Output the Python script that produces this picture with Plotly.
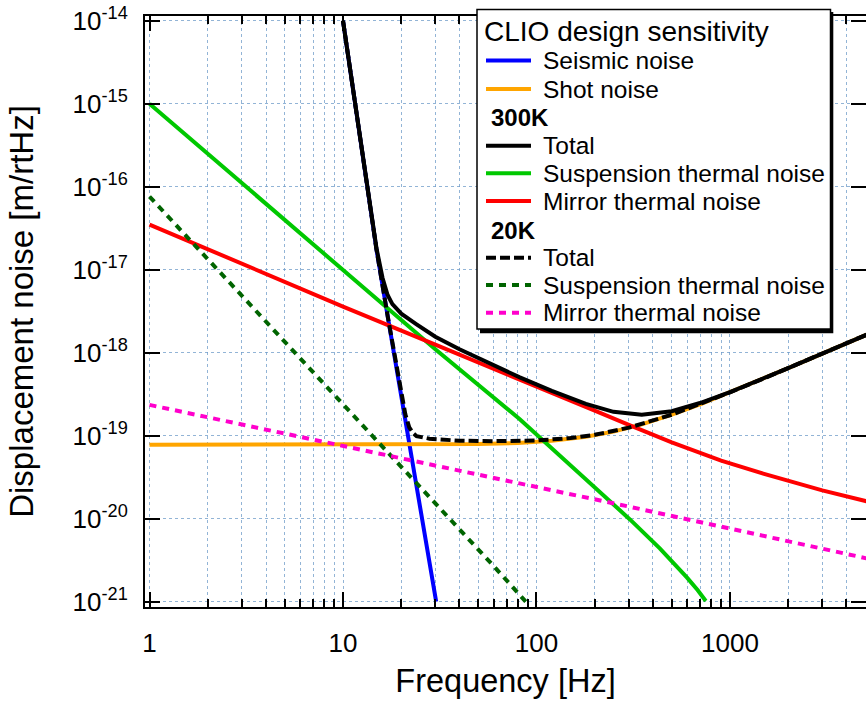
import plotly.graph_objects as go

# ---------------- data ----------------
seis_f = [10, 12, 14.9, 17, 20, 24.5, 27, 30.3]
seis_v = [1.0e-14, 5.5e-16, 1.74e-17, 2.8e-18, 2.95e-19, 1.78e-20, 4.7e-21, 1.0e-21]

shot_f = [1, 10, 30, 50, 80, 120, 180, 250, 350, 500, 700, 1000, 1500, 2000, 3000, 5000, 5500]
shot_v = [7.76e-20, 7.76e-20, 7.82e-20, 7.93e-20, 8.18e-20, 8.68e-20, 9.7e-20, 1.12e-19,
          1.37e-19, 1.79e-19, 2.39e-19, 3.33e-19, 4.91e-19, 6.51e-19, 9.73e-19, 1.62e-18, 1.78e-18]

tot300_f = [10, 12, 14.9, 16, 17, 18, 20, 24, 30, 40, 60, 82, 120, 180, 250, 350, 500, 700,
            1000, 1500, 2000, 3000, 5000, 5500]
tot300_v = [1.0e-14, 5.5e-16, 1.81e-17, 8.0e-18, 4.95e-18, 3.85e-18, 2.95e-18, 2.2e-18, 1.56e-18,
            1.1e-18, 7.0e-19, 5.05e-19, 3.47e-19, 2.42e-19, 1.94e-19, 1.79e-19, 1.97e-19, 2.475e-19,
            3.36e-19, 4.92e-19, 6.52e-19, 9.74e-19, 1.62e-18, 1.78e-18]

susp300_f = [1, 3, 10, 30, 82, 117, 200, 304, 435, 520, 600, 680, 750]
susp300_v = [1.0e-15, 1.11e-16, 1.0e-17, 1.1e-18, 1.58e-19, 7.4e-20, 2.4e-20, 9.8e-21,
             4.37e-21, 2.82e-21, 1.95e-21, 1.38e-21, 1.02e-21]

mirr300_f = [1, 3, 10, 30, 82, 200, 300, 500, 900, 1500, 3000, 5500]
mirr300_v = [3.5e-17, 1.17e-17, 3.6e-18, 1.25e-18, 4.8e-19, 2.0e-19, 1.35e-19, 8.3e-20,
             5.0e-20, 3.47e-20, 2.19e-20, 1.55e-20]

tot20_f = [10, 12, 14.9, 17, 20, 21, 22, 23, 24, 26, 28, 40, 60, 100, 150, 200, 300, 500, 700,
           1000, 1500, 2000, 3000, 5000, 5500]
tot20_v = [1.0e-14, 5.5e-16, 1.74e-17, 2.8e-18, 3.1e-19, 1.81e-19, 1.26e-19, 1.08e-19, 9.87e-20,
           9.42e-20, 9.2e-20, 8.7e-20, 8.6e-20, 8.75e-20, 9.37e-20, 1.025e-19, 1.25e-19, 1.79e-19,
           2.4e-19, 3.33e-19, 4.91e-19, 6.51e-19, 9.73e-19, 1.62e-18, 1.78e-18]

susp20_f = [1, 3, 10, 30, 60, 88]
susp20_v = [7.6e-17, 4.9e-18, 2.4e-19, 1.55e-20, 2.7e-21, 1.0e-21]

mirr20_f = [1, 3, 10, 30, 100, 300, 1000, 3000, 5500]
mirr20_v = [2.35e-19, 1.37e-19, 7.5e-20, 4.4e-20, 2.4e-20, 1.4e-20, 7.6e-21, 4.4e-21, 3.2e-21]

x_tickvals = [1, 10, 100, 1000]
x_ticktext = ["1", "10", "100", "1000"]
y_exponents = [-14, -15, -16, -17, -18, -19, -20, -21]
y_tickvals = [10.0 ** e for e in y_exponents]
y_ticktext = ["10<sup>%d</sup>" % e for e in y_exponents]
x_minor = [m * 10 ** e for e in range(0, 4) for m in range(2, 10)]

legend_title = "CLIO design sensitivity"
# ------------------------------------------------------------------------

BLUE, ORANGE, BLACK = "#0000ff", "#ffa500", "#000000"
GREEN, RED = "#00c800", "#ff0000"
DKGREEN, PINK = "#006400", "#ff00cc"
LW = 4
DASH_BLACK = "10px,4px"
DASH_COL = "7px,6px"

series = [
    ("Seismic noise", seis_f, seis_v, BLUE, "solid"),
    ("Shot noise", shot_f, shot_v, ORANGE, "solid"),
    ("Suspension thermal noise (300K)", susp300_f, susp300_v, GREEN, "solid"),
    ("Mirror thermal noise (300K)", mirr300_f, mirr300_v, RED, "solid"),
    ("Suspension thermal noise (20K)", susp20_f, susp20_v, DKGREEN, DASH_COL),
    ("Mirror thermal noise (20K)", mirr20_f, mirr20_v, PINK, DASH_COL),
    ("Total (20K)", tot20_f, tot20_v, BLACK, DASH_BLACK),
    ("Total (300K)", tot300_f, tot300_v, BLACK, "solid"),
]

fig = go.Figure()
for name, f, v, col, dash in series:
    fig.add_trace(go.Scatter(x=f, y=v, mode="lines", name=name,
                             line=dict(color=col, width=LW, dash=dash)))

FONT = "Liberation Sans, Arial, sans-serif"
GRID = "rgba(110,155,200,0.75)"

ML, MR, MT, MB = 145, 0, 16, 97
W, H = 866, 704
PW, PH = W - ML - MR, H - MT - MB


def px(x):
    return (x - ML) / PW


def py(y):
    return (H - MB - y) / PH


fig.update_layout(
    template="none",
    width=W, height=H,
    margin=dict(l=ML, r=MR, t=MT, b=MB, pad=0),
    paper_bgcolor="white", plot_bgcolor="white",
    showlegend=False,
    font=dict(family=FONT, color="black", size=26),
)

fig.update_xaxes(
    type="log", range=[-0.0233, 3.703],
    tickvals=x_tickvals, ticktext=x_ticktext,
    ticks="inside", ticklen=15, tickwidth=2, tickcolor="black",
    showline=True, linewidth=2, linecolor="black", mirror="ticks",
    showgrid=True, gridcolor=GRID, griddash="dot", gridwidth=1,
    zeroline=False,
    minor=dict(tickvals=x_minor, ticks="inside", ticklen=8, tickwidth=2, tickcolor="black",
               showgrid=True, gridcolor=GRID, griddash="dot", gridwidth=1),
    tickfont=dict(size=26, family=FONT, color="black"),
    ticklabelstandoff=12,
    title=dict(text="Frequency [Hz]", font=dict(size=32.5, family=FONT, color="black"), standoff=12),
)

fig.update_yaxes(
    type="log", range=[-21.064, -13.943],
    tickvals=y_tickvals, ticktext=y_ticktext,
    ticks="inside", ticklen=15, tickwidth=2, tickcolor="black",
    showline=True, linewidth=2, linecolor="black", mirror="ticks",
    showgrid=True, gridcolor=GRID, griddash="dot", gridwidth=1,
    zeroline=False,
    tickfont=dict(size=26, family=FONT, color="black"),
    ticklabelstandoff=10,
    title=dict(text="Displacement noise [m/rtHz]", font=dict(size=33, family=FONT, color="black"),
               standoff=29),
)

# ---------------- legend box (drawn by hand to match the original frame) ----------------
shapes = []
shapes.append(dict(type="rect", xref="paper", yref="paper", layer="above",
                   x0=px(480), x1=px(833.3), y0=py(333.3), y1=py(12),
                   fillcolor="black", line=dict(width=0)))
shapes.append(dict(type="rect", xref="paper", yref="paper", layer="above",
                   x0=px(477), x1=px(830.5), y0=py(329), y1=py(9.5),
                   fillcolor="white", line=dict(color="black", width=1.5)))

annotations = [dict(text=legend_title, xref="paper", yref="paper", x=px(482), y=py(31.5),
                    xanchor="left", yanchor="middle", showarrow=False,
                    font=dict(size=28, family=FONT, color="black"))]

legend_rows = [
    ("Seismic noise", BLUE, "solid", 60.5),
    ("Shot noise", ORANGE, "solid", 89),
    ("<b>300K</b>", None, None, 117.3),
    ("Total", BLACK, "solid", 145.7),
    ("Suspension thermal noise", GREEN, "solid", 173.3),
    ("Mirror thermal noise", RED, "solid", 201),
    ("<b>20K</b>", None, None, 230),
    ("Total", BLACK, DASH_BLACK, 257.7),
    ("Suspension thermal noise", DKGREEN, DASH_COL, 285),
    ("Mirror thermal noise", PINK, DASH_COL, 312.7),
]
for text, col, dash, yc in legend_rows:
    if col is None:
        annotations.append(dict(text=text, xref="paper", yref="paper", x=px(489), y=py(yc),
                                xanchor="left", yanchor="middle", showarrow=False,
                                font=dict(size=24, family=FONT, color="black")))
    else:
        shapes.append(dict(type="line", xref="paper", yref="paper", layer="above",
                           x0=px(486), x1=px(531), y0=py(yc), y1=py(yc),
                           line=dict(color=col, width=LW, dash=dash)))
        annotations.append(dict(text=text, xref="paper", yref="paper", x=px(541), y=py(yc),
                                xanchor="left", yanchor="middle", showarrow=False,
                                font=dict(size=24.5, family=FONT, color="black")))

fig.update_layout(shapes=shapes, annotations=annotations)

fig.write_html("out.html")
